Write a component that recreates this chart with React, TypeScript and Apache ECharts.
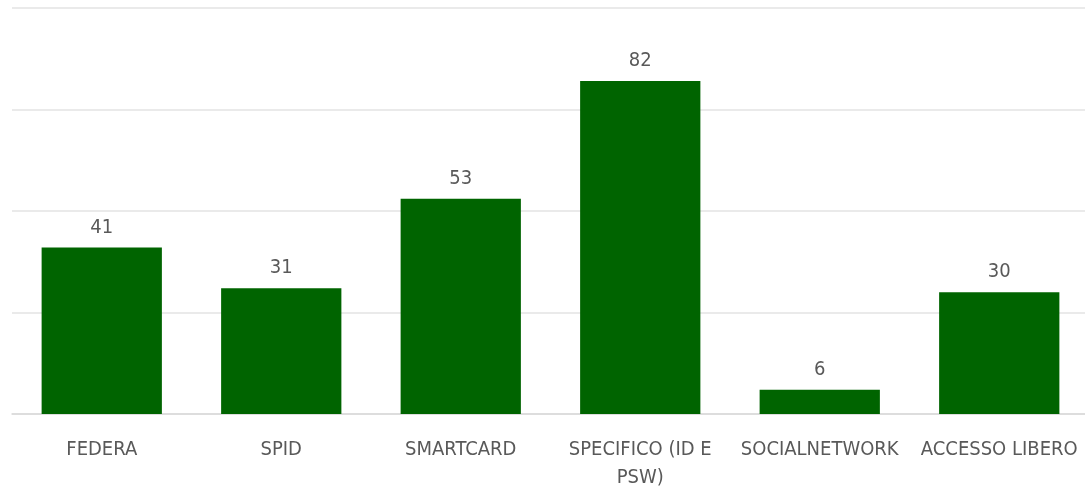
import React, { useEffect, useRef } from "react";
import * as echarts from "echarts";

const categories = ["FEDERA", "SPID", "SMARTCARD", "SPECIFICO (ID E PSW)", "SOCIALNETWORK", "ACCESSO LIBERO"];
const values = [41, 31, 53, 82, 6, 30];
const yMin = 0;
const yMax = 100;
const yInterval = 25;

const FONT = "'Liberation Sans Narrow', 'DejaVu Sans Condensed', sans-serif";

export default function App() {
  const ref = useRef<HTMLDivElement>(null);
  useEffect(() => {
    if (!ref.current) return;
    const chart = echarts.init(ref.current, undefined, { renderer: "svg" });
    chart.setOption({
      animation: false,
      grid: { left: 12, right: 0, top: 8, bottom: 75, outerBoundsMode: "none", containLabel: false },
      xAxis: {
        type: "category",
        data: categories,
        axisLine: { show: true, lineStyle: { color: "#d9d9d9", width: 1.5 } },
        axisTick: { show: false },
        axisLabel: {
          color: "#595959",
          fontFamily: FONT,
          fontSize: 20,
          margin: 20,
          lineHeight: 28,
          interval: 0,
          formatter: (v: string) => v.replace(" PSW)", "\nPSW)"),
        },
      },
      yAxis: {
        type: "value",
        min: yMin,
        max: yMax,
        interval: yInterval,
        axisLabel: { show: false },
        axisLine: { show: false },
        axisTick: { show: false },
        splitLine: { lineStyle: { color: "#e3e3e3", width: 1.5 } },
      },
      series: [
        {
          type: "bar",
          data: values,
          barCategoryGap: "33%",
          itemStyle: { color: "#006400" },
          label: {
            show: true,
            position: "top",
            distance: 12,
            color: "#595959",
            fontFamily: FONT,
            fontSize: 20,
          },
        },
      ],
    });
    return () => chart.dispose();
  }, []);
  return (
    <div
      ref={ref}
      style={{ position: "fixed", left: 0, top: 0, width: 1089, height: 489 }}
    />
  );
}
